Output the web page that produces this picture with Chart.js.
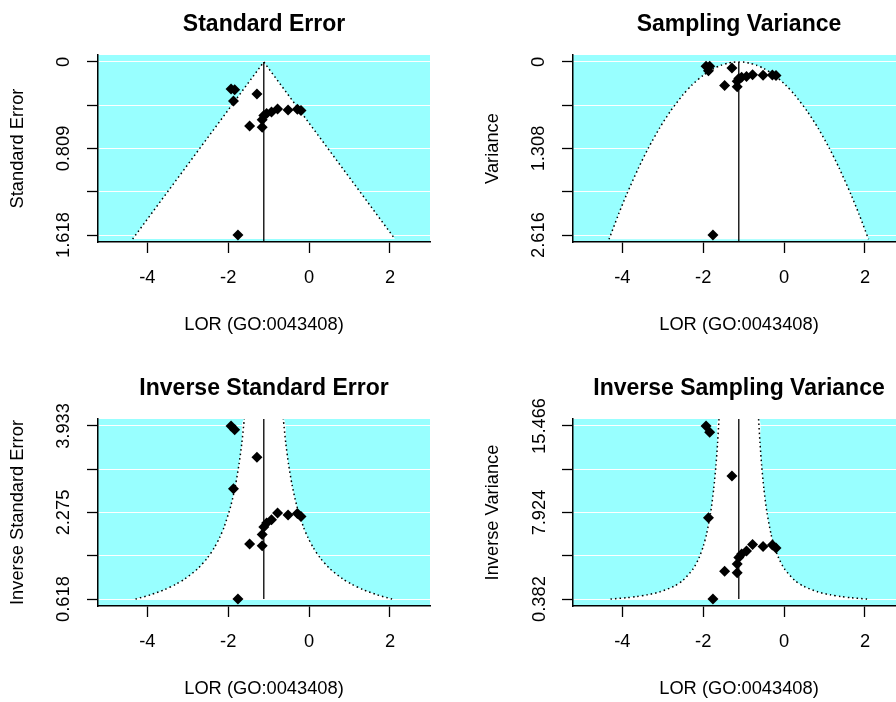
<!DOCTYPE html>
<html>
<head>
<meta charset="utf-8">
<script src="https://cdn.jsdelivr.net/npm/chart.js@4.4.1/dist/chart.umd.min.js"></script>
<style>
  html, body { margin: 0; padding: 0; background: #fff; overflow: hidden; }
  #wrap { position: relative; width: 896px; height: 702px; overflow: hidden; }
  canvas { position: absolute; }
</style>
</head>
<body>
<div id="wrap">
  <canvas id="se" width="475" height="365" style="left:0;top:0"></canvas>
  <canvas id="vi" width="475" height="365" style="left:475px;top:0"></canvas>
  <canvas id="inv_se" width="475" height="365" style="left:0;top:364px"></canvas>
  <canvas id="inv_vi" width="475" height="365" style="left:475px;top:364px"></canvas>
</div>
<script>
// pooled estimate (vertical reference line)
const estimate = -1.12;
const xTicks = [-4, -2, 0, 2];
const xRange = [-5.22, 2.99];

// studies: log odds ratio + the four precision measures
const lor         = [-1.93, -1.84, -1.29, -1.87, -0.78, -0.52, -0.29, -0.20, -0.93, -1.05, -1.12, -1.16, -1.47, -1.16, -1.76];
const stdErr      = [0.254, 0.259, 0.300, 0.366, 0.441, 0.449, 0.443, 0.455, 0.468, 0.482, 0.500, 0.540, 0.598, 0.611, 1.618];
const variance    = [0.0647, 0.0671, 0.0900, 0.1340, 0.1945, 0.2016, 0.1962, 0.2070, 0.2190, 0.2323, 0.2500, 0.2916, 0.3576, 0.3733, 2.616];
const invStdErr   = [3.933, 3.861, 3.333, 2.732, 2.268, 2.227, 2.257, 2.198, 2.137, 2.075, 2.000, 1.852, 1.672, 1.637, 0.618];
const invVariance = [15.466, 14.907, 11.111, 7.465, 5.144, 4.960, 5.094, 4.831, 4.567, 4.306, 4.000, 3.430, 2.796, 2.680, 0.382];

// y axes
const seTicks = [0, 0.4045, 0.809, 1.2135, 1.618];
const seLabels = ['0', '', '0.809', '', '1.618'];
const seRange = [-0.0647, 1.6827];
const viTicks = [0, 0.654, 1.308, 1.962, 2.616];
const viLabels = ['0', '', '1.308', '', '2.616'];
const viRange = [-0.1046, 2.7206];
const invSeTicks = [0.618, 1.4468, 2.2755, 3.1043, 3.933];
const invSeLabels = ['0.618', '', '2.275', '', '3.933'];
const invSeRange = [0.4854, 4.0656];
const invViTicks = [0.382, 4.153, 7.924, 11.695, 15.466];
const invViLabels = ['0.382', '', '7.924', '', '15.466'];
const invViRange = [-0.2214, 16.069];

// funnel outlines
const seFunnelX = [-4.364, -1.12, 2.124];
const seFunnelY = [1.655, 0, 1.655];
const viFunnelX = [-4.329, -4.093, -3.892, -3.599, -3.355, -3.080, -2.817, -2.506, -2.280, -1.997, -1.740, -1.558, -1.397, -1.259, -1.120,
                   -0.981, -0.843, -0.682, -0.500, -0.243, 0.040, 0.266, 0.577, 0.840, 1.115, 1.359, 1.652, 1.853, 2.089];
const viFunnelY = [2.68, 2.3, 2.0, 1.6, 1.3, 1.0, 0.75, 0.5, 0.35, 0.2, 0.1, 0.05, 0.02, 0.005, 0,
                   0.005, 0.02, 0.05, 0.1, 0.2, 0.35, 0.5, 0.75, 1.0, 1.3, 1.6, 2.0, 2.3, 2.68];
const invSeLevels = [0.618, 0.7, 0.8, 0.9, 1.0, 1.2, 1.4, 1.6, 1.8, 2.0, 2.4, 2.8, 3.2, 3.6, 4.066];
const invSeLeftX  = [-4.292, -3.920, -3.570, -3.298, -3.080, -2.753, -2.520, -2.345, -2.209, -2.100, -1.937, -1.820, -1.733, -1.664, -1.602];
const invSeRightX = [2.052, 1.680, 1.330, 1.058, 0.840, 0.513, 0.280, 0.105, -0.031, -0.140, -0.303, -0.420, -0.508, -0.576, -0.638];
const invViLevels = [0.382, 0.5, 0.6, 0.75, 1, 1.5, 2, 3, 4, 5, 6, 8, 10, 12, 14, 16.069];
const invViLeftX  = [-4.292, -3.892, -3.650, -3.383, -3.080, -2.720, -2.506, -2.252, -2.100, -1.997, -1.920, -1.813, -1.740, -1.686, -1.644, -1.609];
const invViRightX = [2.052, 1.652, 1.410, 1.143, 0.840, 0.480, 0.266, 0.012, -0.140, -0.243, -0.320, -0.427, -0.500, -0.554, -0.596, -0.631];

const FONT = "'Liberation Sans', Arial, sans-serif";
const CYAN = '#98ffff';

function pts(xs, ys) {
	return xs.map((x, i) => ({ x: x, y: ys[i] }));
}

const background = {
	id: 'background',
	beforeDraw(chart) {
		const { ctx, chartArea: a } = chart;
		ctx.save();
		ctx.fillStyle = CYAN;
		ctx.fillRect(a.left, a.top, a.width, a.height);
		ctx.restore();
	}
};

function funnelPlot(id, p) {
	const datasets = [
		{
			type: 'line',
			data: p.region,
			fill: 'shape',
			backgroundColor: '#ffffff',
			borderColor: 'rgba(0,0,0,0)',
			borderWidth: 0,
			pointRadius: 0,
			tension: p.tension,
			order: 10
		},
		...p.outlines.map(o => ({
			type: 'line',
			data: o,
			fill: false,
			borderColor: '#000',
			borderWidth: 1.5,
			borderDash: [1.5, 3],
			pointRadius: 0,
			tension: p.tension,
			order: 5
		})),
		{
			type: 'line',
			data: pts([estimate, estimate], p.refY),
			fill: false,
			borderColor: '#000',
			borderWidth: 1.3,
			pointRadius: 0,
			order: 4
		},
		{
			data: pts(lor, p.y),
			pointStyle: 'rectRot',
			pointRadius: 5.5,
			backgroundColor: '#000',
			borderColor: '#000',
			borderWidth: 0,
			order: 0
		}
	];

	return new Chart(document.getElementById(id), {
		type: 'scatter',
		data: { datasets: datasets },
		plugins: [background],
		options: {
			responsive: false,
			animation: false,
			events: [],
			layout: { padding: { left: 0, right: 45, top: 0, bottom: 0 } },
			plugins: {
				legend: { display: false },
				tooltip: { enabled: false },
				title: {
					display: true,
					text: p.title,
					fullSize: false,
					color: '#000',
					font: { family: FONT, size: 23, weight: 'bold' },
					padding: { top: 11, bottom: 16.4 }
				}
			},
			scales: {
				x: {
					type: 'linear',
					min: xRange[0],
					max: xRange[1],
					afterBuildTicks: s => { s.ticks = xTicks.map(v => ({ value: v })); },
					afterFit: s => { s.height = 123; },
					ticks: {
						color: '#000',
						font: { family: FONT, size: 18.3 },
						padding: 14,
						maxRotation: 0,
						autoSkip: false,
						callback: v => String(v)
					},
					grid: { drawOnChartArea: false, tickLength: 11, tickColor: '#000', tickWidth: 1.3 },
					border: { color: '#000', width: 1.5, z: 1 },
					title: {
						display: true,
						text: 'LOR (GO:0043408)',
						color: '#000',
						font: { family: FONT, size: 18.3 },
						padding: { top: 0, bottom: 29 }
					}
				},
				y: {
					type: 'linear',
					reverse: p.reverse,
					min: p.yRange[0],
					max: p.yRange[1],
					afterBuildTicks: s => { s.ticks = p.yTicks.map(v => ({ value: v })); },
					afterFit: s => { s.width = 98; },
					ticks: {
						color: '#000',
						font: { family: FONT, size: 18.3 },
						padding: p.labelPad,
						minRotation: 90,
						maxRotation: 90,
						crossAlign: 'center',
						autoSkip: false,
						callback: (v, i) => p.yLabels[i]
					},
					grid: { color: '#ffffff', lineWidth: 1, tickLength: 11, tickColor: '#000', tickWidth: 1.3 },
					border: { color: '#000', width: 1.5, z: 1 },
					title: {
						display: true,
						text: p.yTitle,
						color: '#000',
						font: { family: FONT, size: 18.3 },
						padding: { top: 7, bottom: 0 }
					}
				}
			}
		}
	});
}

// Standard Error
const seOutline = pts(seFunnelX, seFunnelY);
funnelPlot('se', {
	title: 'Standard Error', yTitle: 'Standard Error',
	y: stdErr, yTicks: seTicks, yLabels: seLabels, yRange: seRange, reverse: true,
	region: seOutline, outlines: [seOutline], refY: [0, seRange[1]],
	tension: 0, labelPad: 0
});

// Sampling Variance
const viOutline = pts(viFunnelX, viFunnelY);
funnelPlot('vi', {
	title: 'Sampling Variance', yTitle: 'Variance',
	y: variance, yTicks: viTicks, yLabels: viLabels, yRange: viRange, reverse: true,
	region: viOutline, outlines: [viOutline], refY: [0, viRange[1]],
	tension: 0.25, labelPad: 0
});

// Inverse Standard Error
const invSeLeft = pts(invSeLeftX, invSeLevels);
const invSeRight = pts(invSeRightX, invSeLevels);
funnelPlot('inv_se', {
	title: 'Inverse Standard Error', yTitle: 'Inverse Standard Error',
	y: invStdErr, yTicks: invSeTicks, yLabels: invSeLabels, yRange: invSeRange, reverse: false,
	region: invSeLeft.concat(invSeRight.slice().reverse()), outlines: [invSeLeft, invSeRight],
	refY: [invSeTicks[0], invSeRange[1]],
	tension: 0.25, labelPad: 0
});

// Inverse Sampling Variance
const invViLeft = pts(invViLeftX, invViLevels);
const invViRight = pts(invViRightX, invViLevels);
funnelPlot('inv_vi', {
	title: 'Inverse Sampling Variance', yTitle: 'Inverse Variance',
	y: invVariance, yTicks: invViTicks, yLabels: invViLabels, yRange: invViRange, reverse: false,
	region: invViLeft.concat(invViRight.slice().reverse()), outlines: [invViLeft, invViRight],
	refY: [invViTicks[0], invViRange[1]],
	tension: 0.25, labelPad: -5.5
});
</script>
</body>
</html>
